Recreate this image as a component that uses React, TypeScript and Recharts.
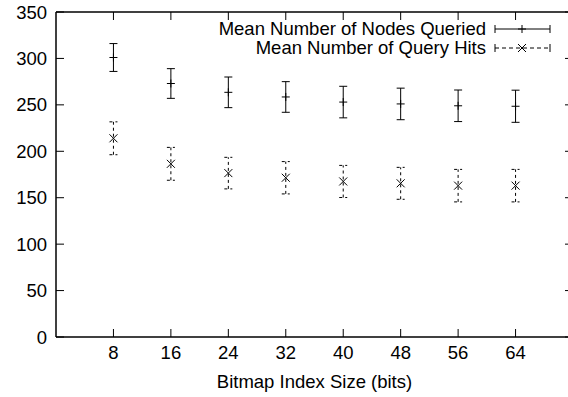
import { ScatterChart, Scatter, XAxis, YAxis, ErrorBar, Label } from "recharts";

const bitmapSizes = [8, 16, 24, 32, 40, 48, 56, 64];
const nodesMean = [301, 273, 263.5, 258.5, 253, 251, 249, 248.5];
const nodesErr = [15, 16, 16.5, 16.5, 17, 17, 17, 17.3];
const hitsMean = [214, 186.5, 176.5, 171.5, 167.5, 165.5, 163, 163];
const hitsErr = [17.7, 17.7, 17, 17.4, 17.3, 17.2, 17.5, 17.5];
const xTicks = [8, 16, 24, 32, 40, 48, 56, 64];
const yTicks = [0, 50, 100, 150, 200, 250, 300, 350];
const xDomain = [0, 72];
const yDomain = [0, 350];

const nodesLabel = "Mean Number of Nodes Queried";
const hitsLabel = "Mean Number of Query Hits";

const nodesData = bitmapSizes.map((x, i) => ({ x, y: nodesMean[i], err: nodesErr[i] }));
const hitsData = bitmapSizes.map((x, i) => ({ x, y: hitsMean[i], err: hitsErr[i] }));

const FONT = "'Liberation Sans', Arial, Helvetica, sans-serif";
const FS = 18.5;
const tickStyle = { fontSize: FS, fill: "#000", fontFamily: FONT };

const CHART_W = 576;
const CHART_H = 397;
const MARGIN = { top: 12, right: 3, bottom: 0, left: 0 };
const Y_AXIS_W = 56;
const X_AXIS_H = 60;
const PLOT_TOP = MARGIN.top;
const PLOT_LEFT = MARGIN.left + Y_AXIS_W;
const PLOT_RIGHT = CHART_W - MARGIN.right;
const PLOT_BOTTOM = CHART_H - MARGIN.bottom - X_AXIS_H;
const TICK_LEN = 8;

const Plus = ({ cx, cy }: any) => (
  <path d={`M${cx - 4},${cy}H${cx + 4}M${cx},${cy - 4}V${cy + 4}`} stroke="#000" strokeWidth={1} fill="none" />
);

const Cross = ({ cx, cy }: any) => (
  <path
    d={`M${cx - 4},${cy - 4}L${cx + 4},${cy + 4}M${cx - 4},${cy + 4}L${cx + 4},${cy - 4}`}
    stroke="#000"
    strokeWidth={1}
    fill="none"
  />
);

// top border and mirrored ticks on the top / right sides (gnuplot style frame)
const Frame = () => {
  const px = (v: number) => PLOT_LEFT + ((v - xDomain[0]) / (xDomain[1] - xDomain[0])) * (PLOT_RIGHT - PLOT_LEFT);
  const py = (v: number) => PLOT_BOTTOM - ((v - yDomain[0]) / (yDomain[1] - yDomain[0])) * (PLOT_BOTTOM - PLOT_TOP);
  return (
    <svg
      width={568}
      height={397}
      style={{ position: "absolute", left: 0, top: 0, pointerEvents: "none" }}
    >
      <line x1={PLOT_LEFT} y1={PLOT_TOP} x2={PLOT_RIGHT} y2={PLOT_TOP} stroke="#000" strokeWidth={1.5} />
      <line x1={PLOT_RIGHT} y1={PLOT_TOP} x2={PLOT_RIGHT} y2={PLOT_BOTTOM} stroke="#000" strokeWidth={1.5} />
      {xTicks.map((t) => (
        <line key={`tx${t}`} x1={px(t)} y1={PLOT_TOP} x2={px(t)} y2={PLOT_TOP + TICK_LEN} stroke="#000" strokeWidth={1} />
      ))}
      {yTicks.map((t) => (
        <line key={`ty${t}`} x1={PLOT_RIGHT - TICK_LEN} y1={py(t)} x2={PLOT_RIGHT} y2={py(t)} stroke="#000" strokeWidth={1} />
      ))}
    </svg>
  );
};

const LegendRow = ({ label, dashed, top }: { label: string; dashed: boolean; top: number }) => (
  <div style={{ position: "absolute", top, left: 0, width: 568, height: 20 }}>
    <span
      style={{
        position: "absolute",
        right: 568 - 486,
        top: 0,
        lineHeight: "20px",
        fontSize: FS,
        fontFamily: FONT,
        whiteSpace: "nowrap",
        color: "#000",
      }}
    >
      {label}
    </span>
    <svg style={{ position: "absolute", left: 490, top: 0 }} width={70} height={20}>
      <g stroke="#000" strokeWidth={1} fill="none">
        <line x1={5} y1={10} x2={60} y2={10} strokeDasharray={dashed ? "4 3" : undefined} />
        <line x1={5} y1={6} x2={5} y2={14} />
        <line x1={60} y1={6} x2={60} y2={14} />
        {dashed ? (
          <path d="M28,6L36,14M28,14L36,6" />
        ) : (
          <path d="M28,10H36M32,6V14" />
        )}
      </g>
    </svg>
  </div>
);

export default function App() {
  return (
    <div
      style={{
        position: "absolute",
        left: 0,
        top: 0,
        width: 568,
        height: 397,
        overflow: "hidden",
        background: "#fff",
      }}
    >
      <ScatterChart width={CHART_W} height={CHART_H} margin={MARGIN}>
        <XAxis
          type="number"
          dataKey="x"
          domain={xDomain}
          ticks={xTicks}
          height={X_AXIS_H}
          tickSize={-TICK_LEN}
          tickMargin={17}
          tick={tickStyle}
          axisLine={{ stroke: "#000", strokeWidth: 1.5 }}
          tickLine={{ stroke: "#000" }}
        >
          <Label
            value="Bitmap Index Size (bits)"
            position="insideBottom"
            offset={9}
            style={{ fontSize: FS, fill: "#000", fontFamily: FONT }}
          />
        </XAxis>
        <YAxis
          type="number"
          dataKey="y"
          domain={yDomain}
          ticks={yTicks}
          width={Y_AXIS_W}
          tickSize={-TICK_LEN}
          tickMargin={17}
          tick={tickStyle}
          axisLine={{ stroke: "#000", strokeWidth: 1.5 }}
          tickLine={{ stroke: "#000" }}
        />
        <Scatter name={nodesLabel} data={nodesData} shape={<Plus />} isAnimationActive={false}>
          <ErrorBar dataKey="err" direction="y" width={4} stroke="#000" strokeWidth={1} />
        </Scatter>
        <Scatter name={hitsLabel} data={hitsData} shape={<Cross />} isAnimationActive={false}>
          <ErrorBar dataKey="err" direction="y" width={4} stroke="#000" strokeWidth={1} strokeDasharray="3 3" />
        </Scatter>
      </ScatterChart>
      <Frame />
      <LegendRow label={nodesLabel} dashed={false} top={19} />
      <LegendRow label={hitsLabel} dashed={true} top={38} />
    </div>
  );
}
